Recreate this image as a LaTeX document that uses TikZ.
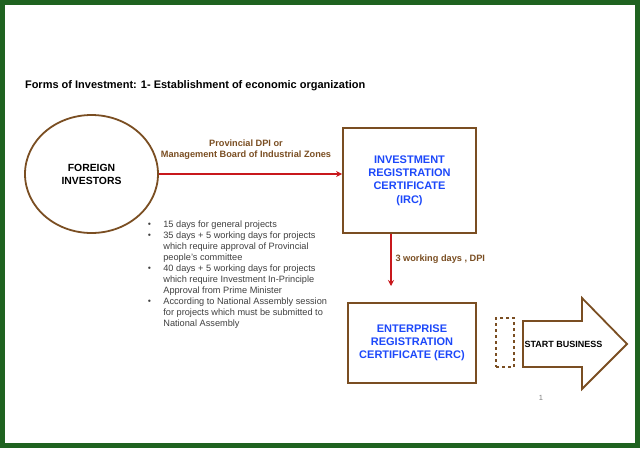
\documentclass[tikz,border=0pt]{standalone}
\usepackage{fontspec}
\setmainfont{Liberation Sans}
\usetikzlibrary{arrows.meta,shapes.geometric}

\definecolor{frame}{RGB}{31,99,32}
\definecolor{wood}{RGB}{122,78,34}
\definecolor{certblue}{RGB}{28,72,250}
\definecolor{linkred}{RGB}{200,24,28}
\definecolor{note}{RGB}{64,64,64}
\newcommand{\listdot}{\raisebox{1.6pt}{\tiny$\bullet$}}

\begin{document}
\begin{tikzpicture}[x=1pt,y=-1pt,
    box/.style={draw=wood, line width=1.8pt},
    link/.style={draw=linkred, line width=1.3pt, -{Stealth[length=6pt,width=6pt]}},
    cert/.style={text=certblue, font=\bfseries\fontsize{11}{13.2}\selectfont, align=center},
    tag/.style={text=wood, font=\bfseries\fontsize{9.2}{11}\selectfont, align=center}]
    % frame
    \fill[frame] (0,0) rectangle (640,448);
    \fill[white] (5,5) rectangle (635,443);

    \node[anchor=west, font=\bfseries\fontsize{11}{13}\selectfont] (title) at (21.5,86) {Forms of Investment: 1- Establishment of economic organization};

    \node[box, ellipse, minimum width=133pt, minimum height=118pt, align=center, font=\bfseries\fontsize{10.4}{13}\selectfont] (inv) at (91.5,174) {FOREIGN\\INVESTORS};
    \node[box, minimum width=133pt, minimum height=105pt, cert] (irc) at (409.5,180.5) {INVESTMENT\\REGISTRATION\\CERTIFICATE\\(IRC)};
    \node[box, minimum width=128pt, minimum height=80pt, cert] (erc) at (412,343) {ENTERPRISE\\REGISTRATION\\CERTIFICATE (ERC)};

    \draw[link] (inv.east) -- (inv.east -| irc.west);
    \node[tag] (dpi) at (246,149.5) {Provincial DPI or\\Management Board of Industrial Zones};

    \coordinate (ercin) at (391,286);
    \draw[link] (irc.south -| ercin) -- (ercin);
    \node[tag, anchor=west] (days) at (392,259) {3 working days , DPI};

    % list of time limits
    \node[anchor=north west, text=note, font=\fontsize{9.2}{11}\selectfont, inner sep=0pt] (limits) at (147.5,219.5) {%
    \begin{tabular}{@{}l@{\hspace{12pt}}l@{}}
    \listdot & 15 days for general projects\\
    \listdot & 35 days + 5 working days for projects\\
     & which require approval of Provincial\\
     & people's committee\\
    \listdot & 40 days + 5 working days for projects\\
     & which require Investment In-Principle\\
     & Approval from Prime Minister\\
    \listdot & According to National Assembly session\\
     & for projects which must be submitted to\\
     & National Assembly
    \end{tabular}};

    \node[box, dashed, minimum width=18pt, minimum height=49pt] (gap) at (505,342.5) {};
    \draw[box, fill=white] (523,321) -- (582,321) -- (582,298) -- (627,344) -- (582,389) -- (582,367) -- (523,367) -- cycle;
    \node[font=\bfseries\fontsize{9}{11}\selectfont] (start) at (563.5,344) {START BUSINESS};

    \node[text=gray, font=\fontsize{7.5}{9}\selectfont] (page) at (541,398) {1};
\end{tikzpicture}
\end{document}
